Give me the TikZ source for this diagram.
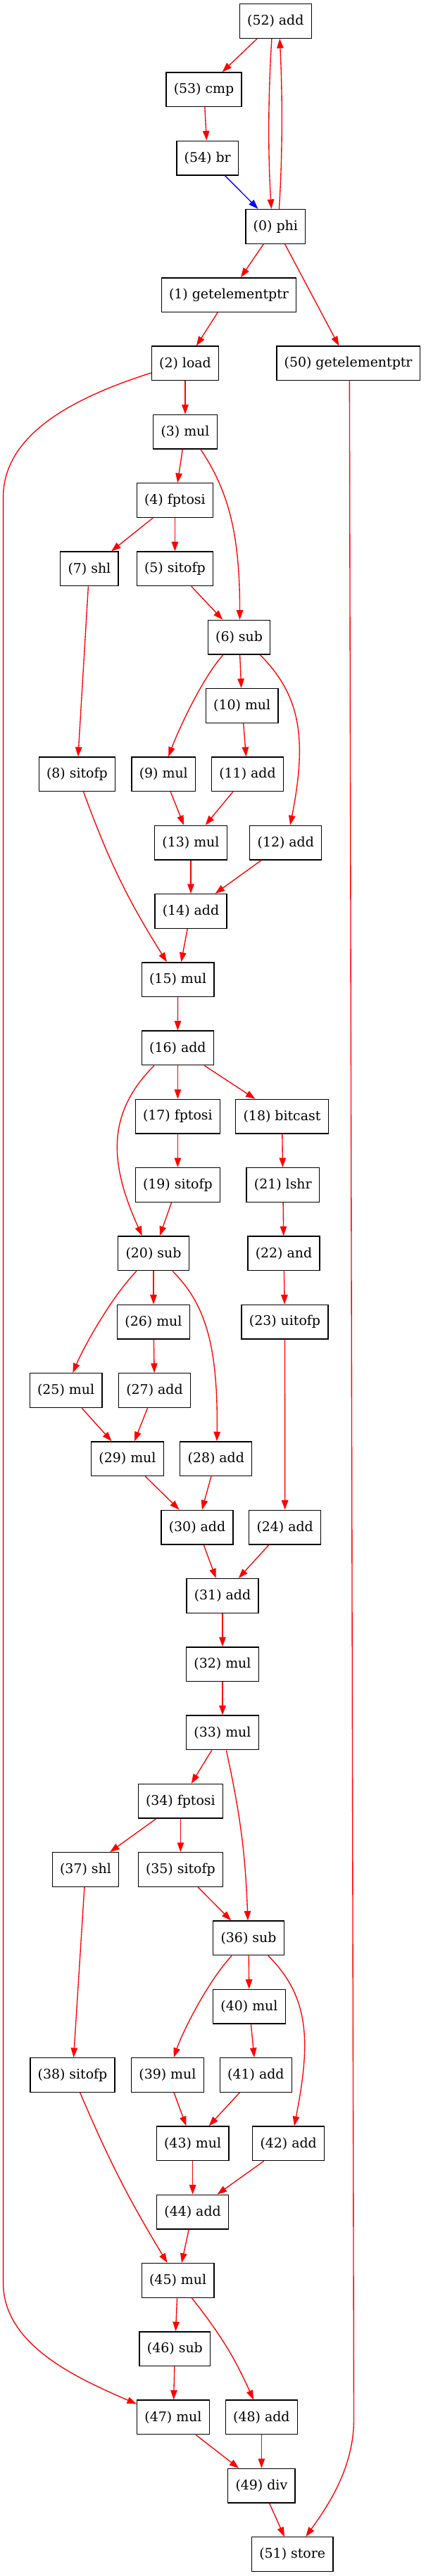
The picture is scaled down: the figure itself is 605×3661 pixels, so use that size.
\documentclass[tikz,border=0pt]{standalone}
\usepackage{fontspec}
\setmainfont{DejaVu Serif}
\usetikzlibrary{arrows.meta}

\begin{document}
\begin{tikzpicture}[x=0.74pt, y=0.74pt,
	op/.style={draw, rectangle, line width=1pt, font=\fontsize{14}{16}\selectfont,
		minimum height=36pt, minimum width=54pt, inner xsep=8pt, inner ysep=2pt},
	dep/.style={draw=red, line width=1pt, -{Triangle[length=10pt,width=7pt]}}]

\fill[white] (0,0) rectangle (605,3661);

\node[op] (n52) at (391.3,3631.0) {(52) add};
\node[op] (n53) at (289.5,3533.7) {(53) cmp};
\node[op] (n54) at (294.7,3436.4) {(54) br};
\node[op] (n0) at (391.3,3339.1) {(0) phi};
\node[op] (n1) at (325.0,3241.8) {(1) getelementptr};
\node[op] (n2) at (263.0,3144.5) {(2) load};
\node[op] (n50) at (494.6,3144.5) {(50) getelementptr};
\node[op] (n3) at (263.0,3047.2) {(3) mul};
\node[op] (n4) at (248.4,2949.9) {(4) fptosi};
\node[op] (n7) at (126.9,2852.6) {(7) shl};
\node[op] (n5) at (248.4,2852.6) {(5) sitofp};
\node[op] (n6) at (339.6,2755.3) {(6) sub};
\node[op] (n10) at (343.7,2658.0) {(10) mul};
\node[op] (n8) at (109.4,2560.7) {(8) sitofp};
\node[op] (n9) at (232.3,2560.7) {(9) mul};
\node[op] (n11) at (351.5,2560.7) {(11) add};
\node[op] (n13) at (271.0,2463.4) {(13) mul};
\node[op] (n12) at (405.8,2463.4) {(12) add};
\node[op] (n14) at (271.0,2366.1) {(14) add};
\node[op] (n15) at (252.6,2268.8) {(15) mul};
\node[op] (n16) at (252.4,2171.5) {(16) add};
\node[op] (n17) at (252.4,2074.2) {(17) fptosi};
\node[op] (n18) at (400.5,2074.2) {(18) bitcast};
\node[op] (n19) at (252.4,1976.9) {(19) sitofp};
\node[op] (n21) at (401.8,1976.9) {(21) lshr};
\node[op] (n20) at (218.0,1879.6) {(20) sub};
\node[op] (n22) at (403.0,1879.6) {(22) and};
\node[op] (n26) at (218.0,1782.3) {(26) mul};
\node[op] (n23) at (404.5,1782.3) {(23) uitofp};
\node[op] (n25) at (93.6,1685.0) {(25) mul};
\node[op] (n27) at (219.5,1685.0) {(27) add};
\node[op] (n29) at (181.0,1587.7) {(29) mul};
\node[op] (n28) at (306.8,1587.7) {(28) add};
\node[op] (n30) at (280.0,1490.4) {(30) add};
\node[op] (n24) at (404.7,1490.4) {(24) add};
\node[op] (n31) at (316.0,1393.1) {(31) add};
\node[op] (n32) at (316.0,1295.8) {(32) mul};
\node[op] (n33) at (316.0,1198.5) {(33) mul};
\node[op] (n34) at (256.4,1101.2) {(34) fptosi};
\node[op] (n37) at (121.5,1003.9) {(37) shl};
\node[op] (n35) at (256.4,1003.9) {(35) sitofp};
\node[op] (n36) at (353.0,906.6) {(36) sub};
\node[op] (n40) at (354.0,809.3) {(40) mul};
\node[op] (n38) at (103.0,712.0) {(38) sitofp};
\node[op] (n39) at (237.9,712.0) {(39) mul};
\node[op] (n41) at (363.4,712.0) {(41) add};
\node[op] (n43) at (273.6,614.7) {(43) mul};
\node[op] (n42) at (409.7,614.7) {(42) add};
\node[op] (n44) at (273.6,517.4) {(44) add};
\node[op] (n45) at (252.6,420.1) {(45) mul};
\node[op] (n46) at (248.4,322.8) {(46) sub};
\node[op] (n47) at (246.0,225.5) {(47) mul};
\node[op] (n48) at (371.4,225.5) {(48) add};
\node[op] (n49) at (371.4,128.2) {(49) div};
\node[op] (n51) at (415.2,30.9) {(51) store};

\coordinate (l2) at (4.6,2954);
\coordinate (l47) at (4.6,416.5);
\coordinate (r51) at (502.5,222.6);

\foreach \a/\b in {52/53, 53/54, 0/1, 0/50, 1/2, 2/3, 3/4, 4/7, 4/5, 5/6, 7/8,
	6/10, 10/11, 9/13, 11/13, 13/14, 12/14, 14/15, 15/16, 16/17, 16/18, 17/19,
	18/21, 19/20, 21/22, 20/26, 22/23, 23/24, 26/27, 25/29, 27/29, 29/30, 28/30,
	30/31, 24/31, 31/32, 32/33, 33/34, 34/37, 34/35, 35/36, 37/38, 36/40, 40/41,
	39/43, 41/43, 43/44, 42/44, 44/45, 45/46, 46/47, 47/49, 48/49, 49/51}
	\draw[dep] (n\a) -- (n\b);
\draw[dep, draw=blue] (n54) -- (n0);

\draw[dep] ([xshift=-4pt]n52.south) .. controls +(-5,-80) and +(-5,80) .. ([xshift=-4.4pt]n0.north);
\draw[dep] ([xshift=3.8pt]n0.north) .. controls +(5,80) and +(4,-80) .. ([xshift=4.4pt]n52.south);
\draw[dep] ([yshift=-10pt]n2.west) .. controls +(-110,-35) and +(0,90) .. (l2) -- (l47)
	.. controls +(0,-90) and +(-80,35) .. ([yshift=-4.5pt]n47.north west);
\draw[dep] ([xshift=1.3pt]n50.south) -- (r51) .. controls +(0,-70) and +(30,42) .. ([xshift=14.2pt]n51.north);
\draw[dep] ([xshift=16.3pt]n3.south) .. controls +(40,-60) and +(0,121) .. ([xshift=0.7pt]n6.north);
\draw[dep] ([xshift=-16.8pt]n6.south) .. controls +(-32,-36) and +(12,32) .. ([xshift=5.1pt]n9.north);
\draw[dep] ([xshift=22pt]n6.south) .. controls +(58,-58) and +(24,122) .. ([xshift=4.7pt]n12.north);
\draw[dep] (n8) to[bend right=6] (n15);
\draw[dep] ([xshift=-24.8pt]n16.south) .. controls +(-70,-70) and +(-45,100) .. ([xshift=-12pt]n20.north);
\draw[dep] ([xshift=-17.8pt]n20.south) .. controls +(-38,-40) and +(15,35) .. ([xshift=7.2pt]n25.north);
\draw[dep] ([xshift=19.9pt]n20.south) .. controls +(45,-45) and +(2,140) .. ([xshift=0.9pt]n28.north);
\draw[dep] (n33) to[bend left=5] (n36);
\draw[dep] ([xshift=-17.7pt]n36.south) .. controls +(-35,-38) and +(12,35) .. ([xshift=6.6pt]n39.north);
\draw[dep] ([xshift=20.6pt]n36.south) .. controls +(58,-58) and +(24,122) .. ([xshift=6.1pt]n42.north);
\draw[dep] (n38) to[bend right=4] (n45);
\draw[dep] (n45) to[bend left=7] (n48);
\end{tikzpicture}
\end{document}
